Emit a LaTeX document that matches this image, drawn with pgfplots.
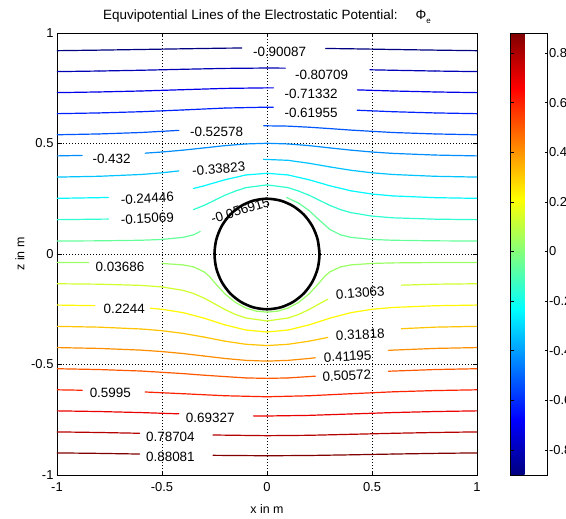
\documentclass[border=0pt]{standalone}
\usepackage{fontspec}
\setmainfont{Liberation Sans}
\usepackage{pgfplots}
\pgfplotsset{compat=1.18}
\newcommand{\lab}[4]{\node[font=\fontsize{13.5}{13.5}\selectfont, rotate=#4, inner sep=0pt] at (axis cs:#1,#2) {#3};}
\newcommand{\seg}[2]{\addplot[mesh, point meta={#1}, line width=1.2bp, line cap=round, line join=round] coordinates {#2};}
\begin{document}
\begin{tikzpicture}
\useasboundingbox (-57bp,-44bp) rectangle (509bp,475bp);
\begin{axis}[
  scale only axis, width=420bp, height=442bp,
  xmin=-1, xmax=1, ymin=-1, ymax=1,
  xtick={-1,-0.5,0,0.5,1}, ytick={-1,-0.5,0,0.5,1},
  grid=major, grid style={black, line width=0.6bp, dash pattern=on 0.8bp off 2.2bp},
  tick align=inside, major tick length=4.5bp, tick style={black, line width=0.6bp},
  axis line style={black, line width=0.8bp},
  ticklabel style={font=\fontsize{13}{13}\selectfont},
  xticklabel style={yshift=-4bp},
  /pgf/number format/assume math mode=true,
  xlabel={x in m}, ylabel={z in m},
  xlabel style={yshift=-6bp},
  label style={font=\fontsize{12.5}{12.5}\selectfont},
  title={Equvipotential Lines of the Electrostatic Potential:\hspace{18bp}Φ\raisebox{-0.6ex}{\fontsize{8}{8}\selectfont e}},
  title style={font=\fontsize{13.5}{13.5}\selectfont},
  colormap/jet, colorbar, point meta min=-0.90087, point meta max=0.88081,
  colorbar style={
    at={(parent axis.north east)}, anchor=north west, xshift=25bp,
    scale only axis, width=37bp, height=442bp,
    ytick={-0.8,-0.6,-0.4,-0.2,0,0.2,0.4,0.6,0.8},
    tick align=inside, major tick length=3bp, ytick pos=both, yticklabel pos=right,
    yticklabel style={font=\fontsize{13}{13}\selectfont, xshift=-2bp, /pgf/number format/assume math mode=true, /pgf/number format/fixed},
    axis line style={black, line width=0.8bp}, tick style={black, line width=0.6bp},
  },
]
% -0.90087
\seg{-0.90087}{(-1,0.920)(-0.8,0.9225)(-0.6,0.9254)(-0.4,0.9285)(-0.2,0.9314)(-0.12,0.932)}
\seg{-0.90087}{(0.28,0.930)(0.4,0.9285)(0.6,0.9254)(0.8,0.9225)(1,0.920)}
% -0.80709
\seg{-0.80709}{(-1,0.8253)(-0.8,0.8279)(-0.6,0.8314)(-0.4,0.8358)(-0.2,0.8398)(0,0.8415)(0.087,0.841)}
\seg{-0.80709}{(0.49,0.8335)(0.6,0.8314)(0.8,0.8279)(1,0.8253)}
% -0.71332
\seg{-0.71332}{(-1,0.7302)(-0.8,0.7332)(-0.6,0.7376)(-0.4,0.7435)(-0.2,0.7493)(0,0.7518)(0.03,0.7517)}
\seg{-0.71332}{(0.43,0.7426)(0.6,0.7376)(0.8,0.7332)(1,0.7302)}
% -0.61955
\seg{-0.61955}{(-1,0.635)(-0.8,0.6383)(-0.6,0.6438)(-0.4,0.6518)(-0.2,0.6604)(0,0.6644)(0.03,0.6643)}
\seg{-0.61955}{(0.43,0.6505)(0.6,0.6438)(0.8,0.6383)(1,0.635)}
% -0.52578
\seg{-0.52578}{(-1,0.5395)(-0.8,0.5432)(-0.6,0.5497)(-0.42,0.5594)}
\seg{-0.52578}{(-0.016,0.5802)(0.1,0.5786)(0.2,0.5737)(0.3,0.5674)(0.4,0.5606)(0.6,0.5497)(0.8,0.5432)(1,0.5395)}
% -0.432
\seg{-0.432}{(-1,0.4439)(-0.88,0.4462)}
\seg{-0.432}{(-0.58,0.4563)(-0.5,0.4615)(-0.4,0.4699)(-0.3,0.480)(-0.2,0.4904)(-0.1,0.498)(0,0.501)(0.1,0.498)(0.2,0.4904)(0.3,0.480)(0.4,0.4699)(0.5,0.4615)(0.6,0.4552)(0.8,0.4477)(1,0.4439)}
% -0.33823
\seg{-0.33823}{(-1,0.348)(-0.8,0.3516)(-0.6,0.3598)(-0.5,0.3674)(-0.42,0.376)}
\seg{-0.33823}{(-0.016,0.4283)(0.1,0.4239)(0.2,0.4106)(0.3,0.394)(0.4,0.3788)(0.5,0.3674)(0.6,0.3598)(0.8,0.3516)(1,0.348)}
% -0.24446
\seg{-0.24446}{(-1,0.2518)(-0.8,0.2549)(-0.755,0.2562)}
\seg{-0.24446}{(-0.35,0.2965)(-0.3,0.3085)(-0.2,0.336)(-0.1,0.3577)(0,0.3652)(0.1,0.3577)(0.2,0.336)(0.3,0.3085)(0.4,0.2858)(0.5,0.2713)(0.6,0.2628)(0.8,0.2549)(1,0.2518)}
% -0.15069
\seg{-0.15069}{(-1,0.1554)(-0.8,0.1576)(-0.755,0.158)}
\seg{-0.15069}{(-0.35,0.2007)(-0.3,0.2197)(-0.25,0.2426)(-0.2,0.2661)(-0.15,0.285)(-0.1,0.3004)(0,0.3127)(0.1,0.3004)(0.15,0.285)(0.2,0.2661)(0.25,0.2426)(0.3,0.2197)(0.35,0.2007)(0.4,0.1872)(0.5,0.1714)(0.6,0.1637)(0.8,0.1576)(1,0.1554)}
% -0.056915
\seg{-0.056915}{(-1,0.0587)(-0.8,0.0596)(-0.6,0.0622)(-0.5,0.0658)(-0.4,0.0752)(-0.35,0.0868)(-0.318,0.102)}
\seg{-0.056915}{(0.094,0.2555)(0.15,0.2305)(0.2,0.197)(0.25,0.1528)(0.3,0.1105)(0.35,0.0868)(0.4,0.0752)(0.5,0.0658)(0.6,0.0622)(0.8,0.0596)(1,0.0587)}
% 0.03686
\seg{0.03686}{(-1,-0.038)(-0.85,-0.0384)}
\seg{0.03686}{(-0.5,-0.0427)(-0.4,-0.0493)(-0.35,-0.0583)(-0.3,-0.0805)(-0.275,-0.1005)(-0.25,-0.129)(-0.2,-0.181)(-0.15,-0.2194)(-0.1,-0.2447)(-0.05,-0.259)(0,-0.263)(0.05,-0.259)(0.1,-0.2447)(0.15,-0.2194)(0.2,-0.181)(0.25,-0.129)(0.275,-0.1005)(0.3,-0.0805)(0.35,-0.0583)(0.4,-0.0493)(0.5,-0.0427)(0.6,-0.0403)(0.8,-0.0386)(1,-0.038)}
% 0.13063
\seg{0.13063}{(-1,-0.1346)(-0.8,-0.1366)(-0.6,-0.1421)(-0.5,-0.149)(-0.4,-0.1644)(-0.35,-0.1787)(-0.3,-0.1993)(-0.25,-0.225)(-0.2,-0.2513)(-0.15,-0.2738)(-0.1,-0.2896)(0,-0.303)(0.1,-0.2896)(0.15,-0.2738)(0.2,-0.2513)(0.25,-0.225)(0.29,-0.204)}
\seg{0.13063}{(0.64,-0.141)(0.8,-0.1366)(1,-0.1346)}
% 0.2244
\seg{0.2244}{(-1,-0.2311)(-0.82,-0.2337)}
\seg{0.2244}{(-0.555,-0.2455)(-0.5,-0.2502)(-0.4,-0.2653)(-0.3,-0.2902)(-0.2,-0.3208)(-0.1,-0.3441)(0,-0.353)(0.1,-0.3441)(0.2,-0.3208)(0.3,-0.2902)(0.4,-0.2653)(0.5,-0.2502)(0.6,-0.2418)(0.8,-0.2341)(1,-0.2311)}
% 0.31818
\seg{0.31818}{(-1,-0.3274)(-0.8,-0.331)(-0.6,-0.3393)(-0.5,-0.347)(-0.4,-0.3592)(-0.3,-0.3758)(-0.2,-0.3945)(-0.1,-0.4086)(0,-0.4143)(0.1,-0.4086)(0.2,-0.3945)(0.29,-0.3775)}
\seg{0.31818}{(0.64,-0.338)(0.8,-0.331)(1,-0.3274)}
% 0.41195
\seg{0.41195}{(-1,-0.4234)(-0.8,-0.4272)(-0.6,-0.4349)(-0.5,-0.4415)(-0.4,-0.4504)(-0.3,-0.4615)(-0.2,-0.4728)(-0.1,-0.4813)(0,-0.4847)(0.1,-0.4813)(0.2,-0.4728)(0.23,-0.4696)}
\seg{0.41195}{(0.578,-0.4362)(0.6,-0.4349)(0.8,-0.4272)(1,-0.4234)}
% 0.50572
\seg{0.50572}{(-1,-0.5191)(-0.8,-0.5228)(-0.6,-0.5295)(-0.4,-0.5412)(-0.3,-0.5484)(-0.2,-0.5547)(-0.1,-0.5608)(0,-0.5628)(0.1,-0.5608)(0.2,-0.5547)(0.23,-0.5528)}
\seg{0.50572}{(0.578,-0.5305)(0.8,-0.5228)(1,-0.5191)}
% 0.5995
\seg{0.5995}{(-1,-0.6145)(-0.88,-0.6165)}
\seg{0.5995}{(-0.58,-0.6244)(-0.4,-0.6322)(-0.2,-0.6414)(0,-0.646)(0.2,-0.6414)(0.4,-0.6322)(0.6,-0.6236)(0.8,-0.6179)(1,-0.6145)}
% 0.69327
\seg{0.69327}{(-1,-0.7098)(-0.8,-0.7128)(-0.6,-0.7175)(-0.42,-0.7232)}
\seg{0.69327}{(-0.064,-0.7327)(0,-0.733)(0.2,-0.7302)(0.4,-0.7238)(0.6,-0.7175)(0.8,-0.7128)(1,-0.7098)}
% 0.78704
\seg{0.78704}{(-1,-0.805)(-0.8,-0.8076)(-0.607,-0.8112)}
\seg{0.78704}{(-0.257,-0.819)(0,-0.8221)(0.2,-0.8204)(0.4,-0.8159)(0.6,-0.8113)(0.8,-0.8076)(1,-0.805)}
% 0.88081
\seg{0.88081}{(-1,-0.9)(-0.8,-0.9022)(-0.607,-0.9051)}
\seg{0.88081}{(-0.257,-0.911)(0,-0.9129)(0.2,-0.9117)(0.4,-0.9087)(0.6,-0.9052)(0.8,-0.9022)(1,-0.9)}
% label hidden partly by the circle
\lab{-0.127}{0.197}{-0.056915}{17}
% circle
\addplot[black, line width=2.6bp, smooth] coordinates {(0.25,0)(0.2415,0.0647)(0.2165,0.125)(0.1768,0.1768)(0.125,0.2165)(0.0647,0.2415)(0,0.25)(-0.0647,0.2415)(-0.125,0.2165)(-0.1768,0.1768)(-0.2165,0.125)(-0.2415,0.0647)(-0.25,0)(-0.2415,-0.0647)(-0.2165,-0.125)(-0.1768,-0.1768)(-0.125,-0.2165)(-0.0647,-0.2415)(0,-0.25)(0.0647,-0.2415)(0.125,-0.2165)(0.1768,-0.1768)(0.2165,-0.125)(0.2415,-0.0647)(0.25,0)(0.2415,0.0647)};
% labels
\lab{0.06}{0.913}{-0.90087}{0}
\lab{0.26}{0.81}{-0.80709}{0}
\lab{0.21}{0.724}{-0.71332}{0}
\lab{0.21}{0.638}{-0.61955}{0}
\lab{-0.24}{0.551}{-0.52578}{0}
\lab{-0.74}{0.43}{-0.432}{0}
\lab{-0.23}{0.385}{-0.33823}{5}
\lab{-0.57}{0.252}{-0.24446}{3}
\lab{-0.57}{0.161}{-0.15069}{3}
\lab{-0.70}{-0.056}{0.03686}{0}
\lab{0.444}{-0.176}{0.13063}{5}
\lab{-0.68}{-0.25}{0.2244}{0}
\lab{0.444}{-0.365}{0.31818}{3}
\lab{0.384}{-0.463}{0.41195}{3}
\lab{0.38}{-0.55}{0.50572}{3}
\lab{-0.746}{-0.63}{0.5995}{0}
\lab{-0.27}{-0.742}{0.69327}{0}
\lab{-0.46}{-0.826}{0.78704}{0}
\lab{-0.46}{-0.917}{0.88081}{0}
\end{axis}
\end{tikzpicture}
\end{document}
